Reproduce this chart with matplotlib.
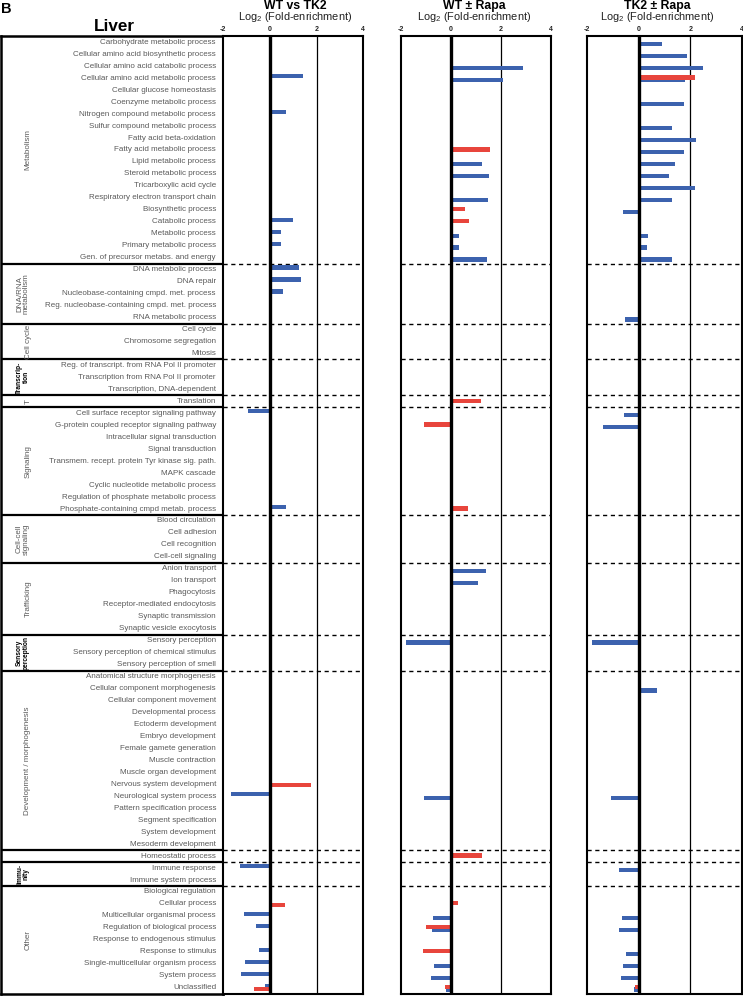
import numpy as np
import matplotlib.pyplot as plt

plt.rcParams['font.family'] = ['Liberation Sans', 'DejaVu Sans']
plt.rcParams['mathtext.fontset'] = 'custom'
plt.rcParams['mathtext.rm'] = 'Liberation Sans'
plt.rcParams['mathtext.default'] = 'regular'

# categories, top to bottom
categories = [
    # Metabolism
    'Carbohydrate metabolic process', 'Cellular amino acid biosynthetic process',
    'Cellular amino acid catabolic process', 'Cellular amino acid metabolic process',
    'Cellular glucose homeostasis', 'Coenzyme metabolic process',
    'Nitrogen compound metabolic process', 'Sulfur compound metabolic process',
    'Fatty acid beta-oxidation', 'Fatty acid metabolic process', 'Lipid metabolic process',
    'Steroid metabolic process', 'Tricarboxylic acid cycle',
    'Respiratory electron transport chain', 'Biosynthetic process', 'Catabolic process',
    'Metabolic process', 'Primary metabolic process', 'Gen. of precursor metabs. and energy',
    # DNA/RNA metabolism
    'DNA metabolic process', 'DNA repair', 'Nucleobase-containing cmpd. met. process',
    'Reg. nucleobase-containing cmpd. met. process', 'RNA metabolic process',
    # Cell cycle
    'Cell cycle', 'Chromosome segregation', 'Mitosis',
    # Transcription
    'Reg. of transcript. from RNA Pol II promoter', 'Transcription from RNA Pol II promoter',
    'Transcription, DNA-dependent',
    # Translation
    'Translation',
    # Signaling
    'Cell surface receptor signaling pathway', 'G-protein coupled receptor signaling pathway',
    'Intracellular signal transduction', 'Signal transduction',
    'Transmem. recept. protein Tyr kinase sig. path.', 'MAPK cascade',
    'Cyclic nucleotide metabolic process', 'Regulation of phosphate metabolic process',
    'Phosphate-containing cmpd metab. process',
    # Cell-cell signaling
    'Blood circulation', 'Cell adhesion', 'Cell recognition', 'Cell-cell signaling',
    # Trafficking
    'Anion transport', 'Ion transport', 'Phagocytosis', 'Receptor-mediated endocytosis',
    'Synaptic transmission', 'Synaptic vesicle exocytosis',
    # Sensory perception
    'Sensory perception', 'Sensory perception of chemical stimulus',
    'Sensory perception of smell',
    # Development / morphogenesis
    'Anatomical structure morphogenesis', 'Cellular component morphogenesis',
    'Cellular component movement', 'Developmental process', 'Ectoderm development',
    'Embryo development', 'Female gamete generation', 'Muscle contraction',
    'Muscle organ development', 'Nervous system development', 'Neurological system process',
    'Pattern specification process', 'Segment specification', 'System development',
    'Mesoderm development',
    # Homeostasis
    'Homeostatic process',
    # Immunity
    'Immune response', 'Immune system process',
    # Other
    'Biological regulation', 'Cellular process', 'Multicellular organismal process',
    'Regulation of biological process', 'Response to endogenous stimulus',
    'Response to stimulus', 'Single-multicellular organism process', 'System process',
    'Unclassified',
]

group_names = ['Metabolism', 'DNA/RNA\nmetabolism', 'Cell cycle', 'Transcrip-\ntion', 'T',
               'Signaling', 'Cell-cell\nsignaling', 'Trafficking', 'Sensory\nperception',
               'Development / morphogenesis', '', 'Immu-\nnity', 'Other']
group_sizes = [19, 5, 3, 3, 1, 9, 4, 6, 3, 15, 1, 2, 9]
group_bold = [False, False, False, True, False, False, False, False, True, False, False, True, False]

panel_titles = ['WT vs TK2', 'WT \u00b1 Rapa', 'TK2 \u00b1 Rapa']

# log2 fold-enrichment, blue series
wt_tk2_blue = {
    'Cellular amino acid metabolic process': 1.41, 'Nitrogen compound metabolic process': 0.68,
    'Catabolic process': 0.99, 'Metabolic process': 0.47, 'Primary metabolic process': 0.49,
    'DNA metabolic process': 1.23, 'DNA repair': 1.34,
    'Nucleobase-containing cmpd. met. process': 0.55,
    'Cell surface receptor signaling pathway': -0.96,
    'Phosphate-containing cmpd metab. process': 0.68,
    'Neurological system process': -1.65, 'Immune response': -1.28,
    'Multicellular organismal process': -1.11, 'Regulation of biological process': -0.58,
    'Response to stimulus': -0.45, 'Single-multicellular organism process': -1.06,
    'System process': -1.26, 'Unclassified': -0.21,
}
# red series
wt_tk2_red = {
    'Nervous system development': 1.76, 'Cellular process': 0.63, 'Unclassified': -0.68,
}

wt_rapa_blue = {
    'Cellular amino acid catabolic process': 2.88, 'Cellular amino acid metabolic process': 2.09,
    'Lipid metabolic process': 1.25, 'Steroid metabolic process': 1.53,
    'Respiratory electron transport chain': 1.49, 'Metabolic process': 0.32,
    'Primary metabolic process': 0.33, 'Gen. of precursor metabs. and energy': 1.44,
    'Anion transport': 1.40, 'Ion transport': 1.11, 'Sensory perception': -1.79,
    'Neurological system process': -1.07, 'Multicellular organismal process': -0.72,
    'Regulation of biological process': -0.76, 'Single-multicellular organism process': -0.65,
    'System process': -0.79, 'Unclassified': -0.19,
}
wt_rapa_red = {
    'Fatty acid metabolic process': 1.57, 'Biosynthetic process': 0.57,
    'Catabolic process': 0.75, 'Translation': 1.21,
    'G-protein coupled receptor signaling pathway': -1.07,
    'Phosphate-containing cmpd metab. process': 0.71, 'Homeostatic process': 1.24,
    'Cellular process': 0.28, 'Regulation of biological process': -0.99,
    'Response to stimulus': -1.09, 'Unclassified': -0.23,
}

tk2_rapa_blue = {
    'Carbohydrate metabolic process': 0.91, 'Cellular amino acid biosynthetic process': 1.86,
    'Cellular amino acid catabolic process': 2.49, 'Cellular amino acid metabolic process': 1.78,
    'Coenzyme metabolic process': 1.74, 'Sulfur compound metabolic process': 1.31,
    'Fatty acid beta-oxidation': 2.24, 'Fatty acid metabolic process': 1.76,
    'Lipid metabolic process': 1.40, 'Steroid metabolic process': 1.16,
    'Tricarboxylic acid cycle': 2.17, 'Respiratory electron transport chain': 1.29,
    'Biosynthetic process': -0.60, 'Metabolic process': 0.36,
    'Primary metabolic process': 0.32, 'Gen. of precursor metabs. and energy': 1.31,
    'RNA metabolic process': -0.54, 'Cell surface receptor signaling pathway': -0.58,
    'G-protein coupled receptor signaling pathway': -1.40, 'Sensory perception': -1.83,
    'Cellular component morphogenesis': 0.71, 'Neurological system process': -1.06,
    'Immune response': -0.76, 'Multicellular organismal process': -0.64,
    'Regulation of biological process': -0.76, 'Response to stimulus': -0.50,
    'Single-multicellular organism process': -0.60, 'System process': -0.68,
    'Unclassified': -0.19,
}
tk2_rapa_red = {
    'Cellular amino acid metabolic process': 2.17, 'Unclassified': -0.15,
}

BLUE = '#3C62AE'
RED = '#E8453C'
GRAY = '#5a5a5a'

W, H = 743, 996
Y_TOP, Y_BOT = 36.3, 993.7
n = len(categories)

fig = plt.figure(figsize=(W / 100, H / 100), dpi=100)


def add_ax(x0, x1):
    return fig.add_axes([x0 / W, 1 - Y_BOT / H, (x1 - x0) / W, (Y_BOT - Y_TOP) / H])


bounds = np.cumsum(group_sizes)[:-1] - 0.5
starts = np.concatenate([[0], np.cumsum(group_sizes)[:-1]])

# label box
lab = add_ax(0.8, 223.3)
lab.set_xlim(0.8, 223.3)
lab.set_ylim(n - 0.5, -0.5)
lab.set_xticks([])
lab.set_yticks([])
for s in lab.spines.values():
    s.set_linewidth(1.8)
for b in bounds:
    lab.axhline(b, color='k', lw=1.6)
for i, name in enumerate(categories):
    lab.text(216, i, name, ha='right', va='center', fontsize=5.75, color=GRAY)
for g, size, bold, st in zip(group_names, group_sizes, group_bold, starts):
    if not g:
        continue
    yc = st + (size - 1) / 2
    xc = 23 if '\n' in g else 28
    if bold:
        lab.text(xc, yc, g, rotation=90, ha='center', va='center', fontsize=4.8,
                 fontweight='bold', color='k', linespacing=0.9)
    else:
        lab.text(xc, yc, g, rotation=90, ha='center', va='center', fontsize=5.8,
                 color=GRAY, linespacing=1.0)

panel_px = [(223.3, 363.3), (400.7, 550.7), (587.3, 741.7)]
title_x = [295, 474, 657]
blue_data = [wt_tk2_blue, wt_rapa_blue, tk2_rapa_blue]
red_data = [wt_tk2_red, wt_rapa_red, tk2_rapa_red]
ypos = np.arange(n)

for k, ((x0, x1), title, bd, rd) in enumerate(zip(panel_px, panel_titles, blue_data, red_data)):
    ax = add_ax(x0, x1)
    ax.set_xlim(-2, 4)
    ax.set_ylim(n - 0.5, -0.5)
    ax.set_yticks([])
    ax.set_xticks([])
    for s in ax.spines.values():
        s.set_linewidth(1.5)
    ax.axvline(0, color='k', lw=2.4, zorder=4)
    ax.axvline(2, color='k', lw=0.9, zorder=1)
    for b in bounds:
        ax.axhline(b, color='k', lw=1.0, ls=(0, (3, 2.6)), zorder=1)

    bvals = np.array([bd.get(c, np.nan) for c in categories])
    rvals = np.array([rd.get(c, np.nan) for c in categories])
    if k == 0:
        off_b, off_r = -0.17, 0.08
    else:
        off_b, off_r = 0.16, -0.05
    mb = ~np.isnan(bvals)
    mr = ~np.isnan(rvals)
    ax.barh(ypos[mb] + off_b, bvals[mb], height=0.36, color=BLUE, zorder=2)
    ax.barh(ypos[mr] + off_r, rvals[mr], height=0.36, color=RED, zorder=3)

    for t in [-2, 0, 2, 4]:
        ax.text(t, 1.0035, str(t), transform=ax.get_xaxis_transform(), ha='center',
                va='bottom', fontsize=5, fontweight='bold', color='#222222')

    fig.text(title_x[k] / W, 1 - 8.6 / H, title, ha='center', va='baseline',
             fontsize=8.8, fontweight='bold')
    fig.text(title_x[k] / W, 1 - 19.8 / H, 'Log$_2$ (Fold-enrichment)', ha='center',
             va='baseline', fontsize=7.9, color='#222222')

fig.text(1 / W, 1 - 13 / H, 'B', ha='left', va='baseline', fontsize=10.5, fontweight='bold')
fig.text(114.5 / W, 1 - 31 / H, 'Liver', ha='center', va='baseline', fontsize=12.3,
         fontweight='bold')

fig.savefig('out.png', dpi=100)
